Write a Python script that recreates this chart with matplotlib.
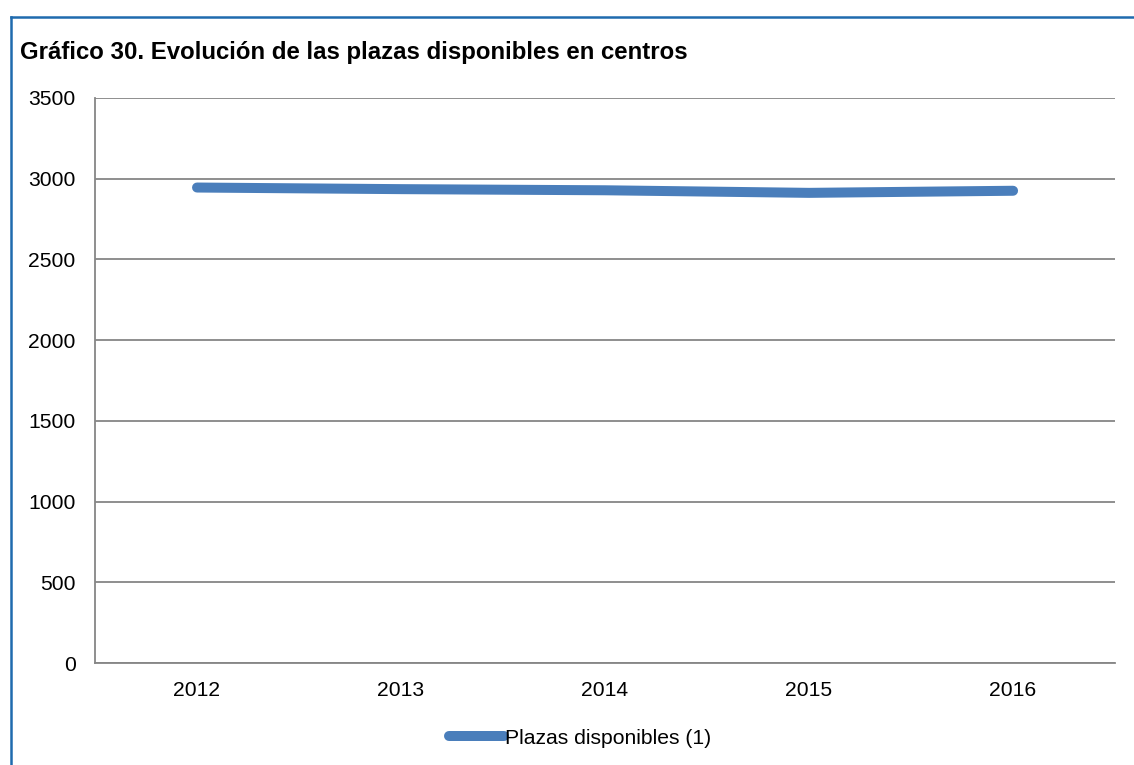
import matplotlib.pyplot as plt
from matplotlib.lines import Line2D

plt.rcParams['font.family'] = ['Liberation Sans', 'DejaVu Sans']

# data
years = ["2012", "2013", "2014", "2015", "2016"]
plazas = [2945, 2935, 2928, 2912, 2925]
yticks = [0, 500, 1000, 1500, 2000, 2500, 3000, 3500]

line_color = "#4A7EBB"
grid_color = "#868686"

fig = plt.figure(figsize=(11.34, 7.65), dpi=100)
ax = fig.add_axes([0.0838, 0.1333, 0.8995, 0.7387])

x = list(range(len(years)))
ax.plot(x, plazas, color=line_color, linewidth=7.2, solid_capstyle="round",
        solid_joinstyle="round", zorder=3)

ax.set_xlim(-0.5, len(years) - 0.5)
ax.set_ylim(0, 3500)
ax.set_yticks(yticks)
ax.set_yticklabels([str(v) for v in yticks], fontsize=15.2)
ax.set_xticks(x)
ax.set_xticklabels(years, fontsize=15.2)
ax.tick_params(axis="x", length=0, pad=13)
ax.tick_params(axis="y", length=0, pad=14)
ax.yaxis.grid(True, color=grid_color, linewidth=1.3)
ax.set_axisbelow(True)

for side in ["top", "right"]:
    ax.spines[side].set_visible(False)
for side in ["left", "bottom"]:
    ax.spines[side].set_color(grid_color)
    ax.spines[side].set_linewidth(1.3)

# title
fig.text(20 / 1134, 1 - 52 / 765, "Gráfico 30. Evolución de las plazas disponibles en centros",
         fontsize=17.3, fontweight="bold", va="center", ha="left")

# legend
handle = Line2D([0], [0], color=line_color, linewidth=7.2, solid_capstyle="round")
fig.legend([handle], ["Plazas disponibles (1)"], loc="center",
           bbox_to_anchor=(580 / 1134, 1 - 738 / 765), frameon=False,
           fontsize=15.2, handlelength=2.6, handletextpad=0.05)

# outer frame (top and left)
fig.add_artist(Line2D([11 / 1134, 1.0], [1 - 17 / 765, 1 - 17 / 765],
                      color="#1F6BAE", linewidth=1.8, transform=fig.transFigure))
fig.add_artist(Line2D([11 / 1134, 11 / 1134], [0, 1 - 17 / 765],
                      color="#1F6BAE", linewidth=1.8, transform=fig.transFigure))

fig.savefig("out.png", dpi=100)
